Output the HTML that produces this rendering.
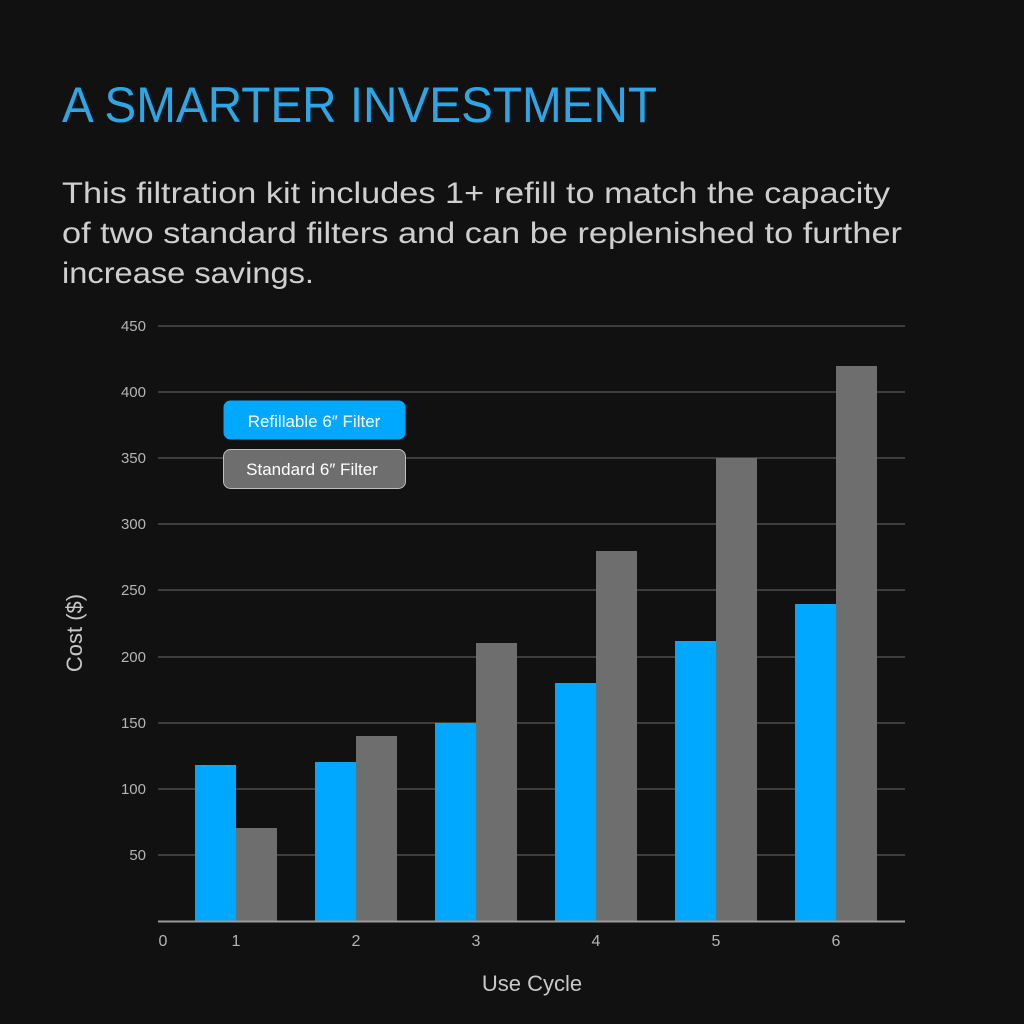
<!DOCTYPE html>
<html><head><meta charset="utf-8"><style>
html,body{margin:0;padding:0;background:#121112;}
svg{display:block;font-family:"Liberation Sans",sans-serif;}
</style></head><body>
<svg width="1024" height="1024" viewBox="0 0 1024 1024" xmlns="http://www.w3.org/2000/svg">
<rect width="1024" height="1024" fill="#121112"/>
<text x="62" y="122" font-size="50" fill="#2ea6e6" textLength="595" lengthAdjust="spacingAndGlyphs">A SMARTER INVESTMENT</text>
<g font-size="30" fill="#cfcfcf">
<text x="62" y="203" textLength="828" lengthAdjust="spacingAndGlyphs">This filtration kit includes 1+ refill to match the capacity</text>
<text x="62" y="243" textLength="840" lengthAdjust="spacingAndGlyphs">of two standard filters and can be replenished to further</text>
<text x="62" y="283" textLength="252" lengthAdjust="spacingAndGlyphs">increase savings.</text>
</g>
<g stroke="#6a6a6a" stroke-width="1">
<line x1="158" x2="905" y1="326" y2="326"/>
<line x1="158" x2="905" y1="392" y2="392"/>
<line x1="158" x2="905" y1="458" y2="458"/>
<line x1="158" x2="905" y1="524" y2="524"/>
<line x1="158" x2="905" y1="590" y2="590"/>
<line x1="158" x2="905" y1="657" y2="657"/>
<line x1="158" x2="905" y1="723" y2="723"/>
<line x1="158" x2="905" y1="789" y2="789"/>
<line x1="158" x2="905" y1="855" y2="855"/>
</g>
<g font-size="15" fill="#b5b5b5" text-anchor="end">
<text x="146" y="331">450</text>
<text x="146" y="397">400</text>
<text x="146" y="463">350</text>
<text x="146" y="529">300</text>
<text x="146" y="595">250</text>
<text x="146" y="662">200</text>
<text x="146" y="728">150</text>
<text x="146" y="794">100</text>
<text x="146" y="860">50</text>
</g>
<g fill="#00a8ff">
<rect x="195" y="765" width="41" height="156"/>
<rect x="315" y="762" width="41" height="159"/>
<rect x="435" y="723" width="41" height="198"/>
<rect x="555" y="683" width="41" height="238"/>
<rect x="675" y="641" width="41" height="280"/>
<rect x="795" y="604" width="41" height="317"/>
</g>
<g fill="#6e6e6e">
<rect x="236" y="828" width="41" height="93"/>
<rect x="356" y="736" width="41" height="185"/>
<rect x="476" y="643" width="41" height="278"/>
<rect x="596" y="551" width="41" height="370"/>
<rect x="716" y="458" width="41" height="463"/>
<rect x="836" y="366" width="41" height="555"/>
</g>
<line x1="158" x2="905" y1="921.5" y2="921.5" stroke="#9a9a9a" stroke-width="2"/>
<g font-size="16" fill="#b5b5b5" text-anchor="middle">
<text x="163" y="946">0</text>
<text x="236" y="946">1</text>
<text x="356" y="946">2</text>
<text x="476" y="946">3</text>
<text x="596" y="946">4</text>
<text x="716" y="946">5</text>
<text x="836" y="946">6</text>
</g>
<text x="532" y="991" font-size="22" fill="#c8c8c8" text-anchor="middle">Use Cycle</text>
<text transform="translate(82,633) rotate(-90)" font-size="22" fill="#c8c8c8" text-anchor="middle">Cost ($)</text>
<rect x="223.5" y="400.5" width="182" height="39" rx="7" fill="#00a8ff"/>
<text x="314" y="427" font-size="17" fill="#ffffff" text-anchor="middle">Refillable 6″ Filter</text>
<rect x="223.5" y="449.5" width="182" height="39" rx="7" fill="#6e6e6e" stroke="#bdbdbd" stroke-width="1"/>
<text x="312" y="475" font-size="17" fill="#ffffff" text-anchor="middle">Standard 6″ Filter</text>
</svg>
</body></html>
